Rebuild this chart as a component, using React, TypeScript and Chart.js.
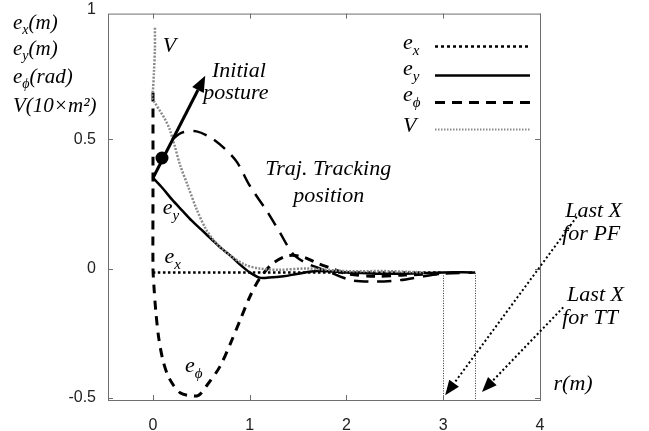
import React, { useEffect, useRef } from 'react';
import { Chart, registerables } from 'chart.js';

Chart.register(...registerables);

// ---- axis ticks ----
const xTicks = [0, 1, 2, 3, 4];
const yTicks = [-0.5, 0, 0.5, 1];
const xLabels = ['0', '1', '2', '3', '4'];
const yLabels = ['-0.5', '0', '0.5', '1'];

// ---- series: r (m) and values ----
const exR = [0, 0.5, 1.0, 1.5, 2.0, 2.5, 3.0];
const exVal = [-0.015, -0.015, -0.015, -0.015, -0.015, -0.015, -0.015];

const eyR = [0, 0.1, 0.2, 0.3, 0.4, 0.5, 0.6, 0.7, 0.8, 0.9, 1.0, 1.1, 1.2, 1.35, 1.5, 1.7, 2.0, 2.3, 2.6, 3.0, 3.3];
const eyVal = [0.35, 0.31, 0.265, 0.225, 0.185, 0.15, 0.115, 0.08, 0.05, 0.015, -0.015, -0.035, -0.035, -0.03, -0.02, -0.01, -0.015, -0.02, -0.02, -0.015, -0.015];

const ephiPfR = [0, 0, 0, 0.01, 0.03, 0.06, 0.1, 0.15, 0.21, 0.28, 0.36, 0.47, 0.56, 0.69, 0.8, 0.9, 1.0, 1.1, 1.24, 1.4, 1.55, 1.7, 1.85, 2.0, 2.3, 2.6, 3.0];
const ephiPfVal = [0.68, 0.3, 0.0, -0.07, -0.17, -0.27, -0.35, -0.41, -0.45, -0.48, -0.49, -0.49, -0.45, -0.38, -0.29, -0.2, -0.11, -0.04, 0.02, 0.05, 0.045, 0.02, 0.0, -0.02, -0.03, -0.025, -0.02];

const ephiTtR = [0.2, 0.3, 0.45, 0.6, 0.75, 0.87, 1.0, 1.18, 1.31, 1.45, 1.59, 1.8, 2.05, 2.3, 2.55, 2.8, 3.0, 3.33];
const ephiTtVal = [0.5, 0.525, 0.53, 0.505, 0.46, 0.41, 0.32, 0.22, 0.14, 0.055, 0.02, -0.01, -0.045, -0.05, -0.045, -0.03, -0.02, -0.015];

const vR = [0.02, 0.02, 0.01, 0.0, -0.01, 0.02, 0.07, 0.12, 0.17, 0.22, 0.28, 0.36, 0.45, 0.55, 0.65, 0.8, 0.95, 1.1, 1.3, 1.6, 2.0, 2.4, 2.8];
const vVal = [0.93, 0.85, 0.76, 0.69, 0.66, 0.64, 0.61, 0.58, 0.54, 0.48, 0.4, 0.32, 0.23, 0.15, 0.1, 0.05, 0.015, 0.0, -0.005, 0.0, -0.01, -0.01, -0.015];

// ---- annotations ----
const lastX = [3.0, 3.33];
const lastXTop = -0.017;
const initialDot = { x: 0.093, y: 0.427 };
const initialArrow = { x1: 0, y1: 0.35, x2: 0.54, y2: 0.745 };
const pfArrow = { x1: 4.38, y1: 0.2, x2: 3.02, y2: -0.49 };
const ttArrow = { x1: 4.24, y1: -0.15, x2: 3.4, y2: -0.477 };

const SERIF = '"Liberation Serif", "DejaVu Serif", serif';

type Seg = [string, 'n' | 'sub'];

function rich(ctx: CanvasRenderingContext2D, x: number, y: number, segs: Seg[], size: number) {
  let cx = x;
  ctx.textBaseline = 'alphabetic';
  ctx.textAlign = 'left';
  for (const [t, m] of segs) {
    if (m === 'sub') {
      ctx.font = `italic ${Math.round(size * 0.68)}px ${SERIF}`;
      ctx.fillText(t, cx, y + size * 0.28);
    } else {
      ctx.font = `italic ${size}px ${SERIF}`;
      ctx.fillText(t, cx, y);
    }
    cx += ctx.measureText(t).width;
  }
}

function arrow(ctx: CanvasRenderingContext2D, x1: number, y1: number, x2: number, y2: number,
  lw: number, dash: number[], hl: number, hw: number) {
  const ang = Math.atan2(y2 - y1, x2 - x1);
  const bx = x2 - Math.cos(ang) * hl;
  const by = y2 - Math.sin(ang) * hl;
  ctx.save();
  ctx.lineWidth = lw;
  ctx.setLineDash(dash);
  ctx.beginPath();
  ctx.moveTo(x1, y1);
  ctx.lineTo(bx, by);
  ctx.stroke();
  ctx.setLineDash([]);
  ctx.beginPath();
  ctx.moveTo(x2, y2);
  ctx.lineTo(bx + Math.sin(ang) * hw / 2, by - Math.cos(ang) * hw / 2);
  ctx.lineTo(bx - Math.sin(ang) * hw / 2, by + Math.cos(ang) * hw / 2);
  ctx.closePath();
  ctx.fill();
  ctx.restore();
}

const overlay = {
  id: 'overlay',
  afterDatasetsDraw(chart: any) {
    const ctx: CanvasRenderingContext2D = chart.ctx;
    const a = chart.chartArea;
    const xs = chart.scales.x;
    const ys = chart.scales.y;
    const px = (v: number) => xs.getPixelForValue(v);
    const py = (v: number) => ys.getPixelForValue(v);
    ctx.save();
    ctx.fillStyle = '#000';
    ctx.strokeStyle = '#000';

    // last X vertical dotted lines
    ctx.save();
    ctx.lineWidth = 1;
    ctx.strokeStyle = '#333';
    ctx.setLineDash([1, 1.5]);
    for (const lx of lastX) {
      ctx.beginPath();
      ctx.moveTo(Math.round(px(lx)) + 0.5, py(lastXTop));
      ctx.lineTo(Math.round(px(lx)) + 0.5, a.bottom);
      ctx.stroke();
    }
    ctx.restore();

    // frame and inward ticks
    ctx.save();
    ctx.strokeStyle = '#6e6e6e';
    ctx.lineWidth = 1;
    ctx.strokeRect(a.left + 0.5, a.top + 0.5, a.right - a.left, a.bottom - a.top);
    ctx.beginPath();
    for (const t of xTicks) {
      const p = Math.round(px(t)) + 0.5;
      ctx.moveTo(p, a.bottom); ctx.lineTo(p, a.bottom - 5);
      ctx.moveTo(p, a.top); ctx.lineTo(p, a.top + 5);
    }
    for (const t of yTicks) {
      const p = Math.round(py(t)) + 0.5;
      if (p < a.top || p > a.bottom + 1) continue;
      ctx.moveTo(a.left, p); ctx.lineTo(a.left + 5, p);
      ctx.moveTo(a.right, p); ctx.lineTo(a.right - 5, p);
    }
    ctx.stroke();
    ctx.restore();

    // initial posture arrow and dot
    ctx.save();
    arrow(ctx, px(initialArrow.x1), py(initialArrow.y1), px(initialArrow.x2), py(initialArrow.y2), 3, [], 16, 13);
    ctx.beginPath();
    ctx.arc(px(initialDot.x), py(initialDot.y), 6.5, 0, Math.PI * 2);
    ctx.fill();
    ctx.restore();

    // last X arrows
    arrow(ctx, px(pfArrow.x1), py(pfArrow.y1), px(pfArrow.x2), py(pfArrow.y2), 2, [2, 2.5], 15, 12);
    arrow(ctx, px(ttArrow.x1), py(ttArrow.y1), px(ttArrow.x2), py(ttArrow.y2), 2, [2, 2.5], 15, 12);

    // annotation texts
    const S = 22;
    rich(ctx, px(0.1), py(0.836), [['V', 'n']], S);
    rich(ctx, px(0.61), py(0.74), [['Initial', 'n']], S);
    rich(ctx, px(0.52), py(0.656), [['posture', 'n']], S);
    rich(ctx, px(1.16), py(0.363), [['Traj. Tracking', 'n']], S);
    rich(ctx, px(1.45), py(0.256), [['position', 'n']], S);
    rich(ctx, px(0.1), py(0.21), [['e', 'n'], ['y', 'sub']], S);
    rich(ctx, px(0.12), py(0.022), [['e', 'n'], ['x', 'sub']], S);
    rich(ctx, px(0.33), py(-0.4), [['e', 'n'], ['ϕ', 'sub']], S);
    rich(ctx, px(4.26), py(0.198), [['Last X', 'n']], S);
    rich(ctx, px(4.23), py(0.11), [['for PF', 'n']], S);
    rich(ctx, px(4.28), py(-0.126), [['Last X', 'n']], S);
    rich(ctx, px(4.23), py(-0.214), [['for TT', 'n']], S);
    rich(ctx, px(4.14), py(-0.47), [['r(m)', 'n']], S);

    // y-axis title block
    const tx = a.left - 95;
    rich(ctx, tx, a.top + 15, [['e', 'n'], ['x', 'sub'], ['(m)', 'n']], 21);
    rich(ctx, tx, a.top + 41, [['e', 'n'], ['y', 'sub'], ['(m)', 'n']], 21);
    rich(ctx, tx, a.top + 69, [['e', 'n'], ['ϕ', 'sub'], ['(rad)', 'n']], 21);
    rich(ctx, tx, a.top + 98, [['V(10×m²)', 'n']], 21);

    // legend
    const lx = a.right - 137;
    const l1 = a.right - 105;
    const l2 = a.right - 10;
    const items: { segs: Seg[]; by: number; ly: number; w: number; dash: number[]; color: string }[] = [
      { segs: [['e', 'n'], ['x', 'sub']], by: 35, ly: 33, w: 2.5, dash: [3, 3], color: '#000' },
      { segs: [['e', 'n'], ['y', 'sub']], by: 61, ly: 62, w: 2.5, dash: [], color: '#000' },
      { segs: [['e', 'n'], ['ϕ', 'sub']], by: 87, ly: 89, w: 3, dash: [10, 7], color: '#000' },
      { segs: [['V', 'n']], by: 118, ly: 116, w: 2, dash: [1.5, 1.5], color: '#8a8a8a' },
    ];
    for (const it of items) {
      rich(ctx, lx, a.top + it.by, it.segs, S);
      ctx.save();
      ctx.strokeStyle = it.color;
      ctx.lineWidth = it.w;
      ctx.setLineDash(it.dash);
      ctx.beginPath();
      ctx.moveTo(l1, a.top + it.ly);
      ctx.lineTo(l2, a.top + it.ly);
      ctx.stroke();
      ctx.restore();
    }
    ctx.restore();
  },
};

const zip = (xs: number[], ys: number[]) => xs.map((x, i) => ({ x, y: ys[i] }));

export default function App() {
  const ref = useRef<HTMLCanvasElement>(null);
  useEffect(() => {
    if (!ref.current) return;
    const common = { showLine: true, pointRadius: 0, tension: 0.3, fill: false, borderCapStyle: 'butt' };
    const chart = new Chart(ref.current, {
      type: 'scatter',
      data: {
        datasets: [
          { ...common, label: 'V', data: zip(vR, vVal), borderColor: '#8a8a8a', borderWidth: 2.5, borderDash: [2, 1.5] },
          { ...common, label: 'e_y', data: zip(eyR, eyVal), borderColor: '#000', borderWidth: 2.5 },
          { ...common, label: 'e_x', data: zip(exR, exVal), borderColor: '#000', borderWidth: 2.5, borderDash: [2.5, 2.5] },
          { ...common, label: 'e_phi PF', data: zip(ephiPfR, ephiPfVal), borderColor: '#000', borderWidth: 3, borderDash: [9, 7] },
          { ...common, label: 'e_phi TT', data: zip(ephiTtR, ephiTtVal), borderColor: '#000', borderWidth: 2.5, borderDash: [14, 9] },
        ] as any,
      },
      options: {
        responsive: false,
        animation: false,
        events: [],
        layout: { padding: { top: 10, right: 109, left: 0, bottom: 0 } },
        plugins: { legend: { display: false }, tooltip: { enabled: false } },
        scales: {
          x: {
            type: 'linear',
            min: -0.465,
            max: 4,
            grid: { display: false },
            border: { display: false },
            afterBuildTicks: (s: any) => { s.ticks = xTicks.map((v) => ({ value: v })); },
            afterFit: (s: any) => { s.height = 31; },
            ticks: {
              padding: 8,
              color: '#222',
              font: { family: '"Liberation Sans", Arial, sans-serif', size: 16 },
              callback: (v: any) => xLabels[xTicks.indexOf(Number(v))] ?? '',
            },
          },
          y: {
            type: 'linear',
            min: -0.508,
            max: 0.985,
            grid: { display: false },
            border: { display: false },
            afterBuildTicks: (s: any) => { s.ticks = yTicks.map((v) => ({ value: v })); },
            afterFit: (s: any) => { s.width = 108; },
            ticks: {
              padding: 4,
              color: '#222',
              font: { family: '"Liberation Sans", Arial, sans-serif', size: 16 },
              callback: (v: any) => yLabels[yTicks.indexOf(Number(v))] ?? '',
            },
          },
        },
      } as any,
      plugins: [overlay],
    });
    return () => chart.destroy();
  }, []);
  return (
    <div style={{ position: 'fixed', left: 0, top: 0, width: 649, height: 431, background: '#fff' }}>
      <canvas ref={ref} width={649} height={431} style={{ display: 'block' }} />
    </div>
  );
}
